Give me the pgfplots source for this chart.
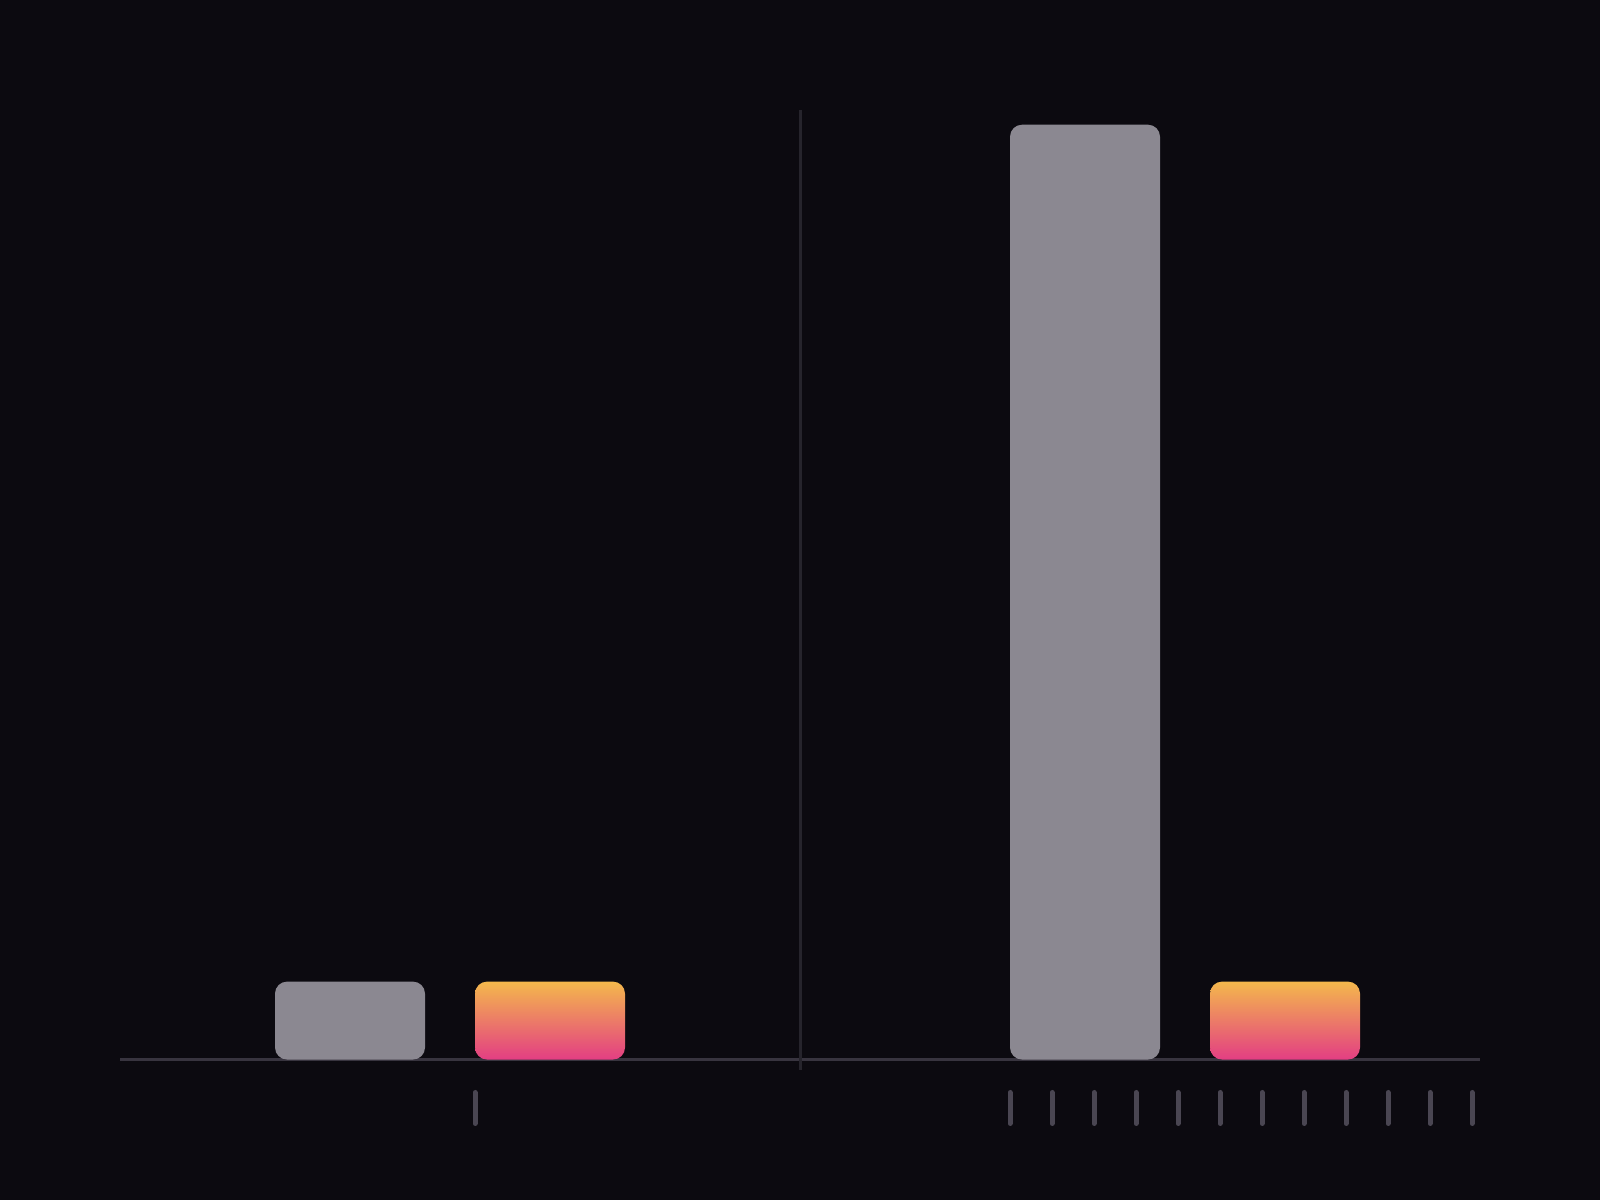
\documentclass[border=0pt]{standalone}
\usepackage{pgfplots}
\pgfplotsset{compat=1.18}

\definecolor{bg}{HTML}{0C0A10}
\definecolor{bargray}{HTML}{8B8891}
\definecolor{gradtop}{HTML}{F4B84C}
\definecolor{gradbot}{HTML}{E33E83}
\definecolor{axisline}{HTML}{38343F}
\definecolor{divider}{HTML}{26242C}
\definecolor{tickmark}{HTML}{4A4652}

\pgfplotsset{gradbar/.style={draw=none, top color=gradtop, bottom color=gradbot,
    rounded corners=0.12cm}}

\begin{document}
\begin{tikzpicture}
\fill[bg] (0,0) rectangle (16cm,12cm);
\begin{axis}[
    at={(1.2cm,0.2365cm)}, anchor=south west,
    scale only axis,
    width=13.6cm, height=10.906cm,
    xmin=120, xmax=1480,
    ymin=-1.5, ymax=12.5,
    hide axis,
    clip=false,
]
% baseline and divider
\addplot[draw=axisline, line width=0.03cm] coordinates {(120,0) (1480,0)};
\addplot[draw=divider, line width=0.03cm] coordinates {(800,-0.135) (800,12.19)};

% grey bars
\addplot[ybar, bar width=150, bar shift=0pt, draw=none, fill=bargray,
    rounded corners=0.12cm]
    coordinates {(350,1) (1085,12)};
% gradient bars (value 1 each), outlined from mid-edge so every corner rounds
\addplot[gradbar] coordinates {(475,0.5) (475,1) (625,1) (625,0) (475,0)} -- cycle;
\addplot[gradbar] coordinates {(1210,0.5) (1210,1) (1360,1) (1360,0) (1210,0)} -- cycle;

% count marks below the baseline
\addplot[only marks, mark=|, mark size=0.155cm,
    mark options={draw=tickmark, line width=0.05cm, line cap=round}]
    coordinates {(475,-0.622)
    (1010,-0.622) (1052,-0.622) (1094,-0.622) (1136,-0.622)
    (1178,-0.622) (1220,-0.622) (1262,-0.622) (1304,-0.622)
    (1346,-0.622) (1388,-0.622) (1430,-0.622) (1472,-0.622)};
\end{axis}
\end{tikzpicture}
\end{document}
